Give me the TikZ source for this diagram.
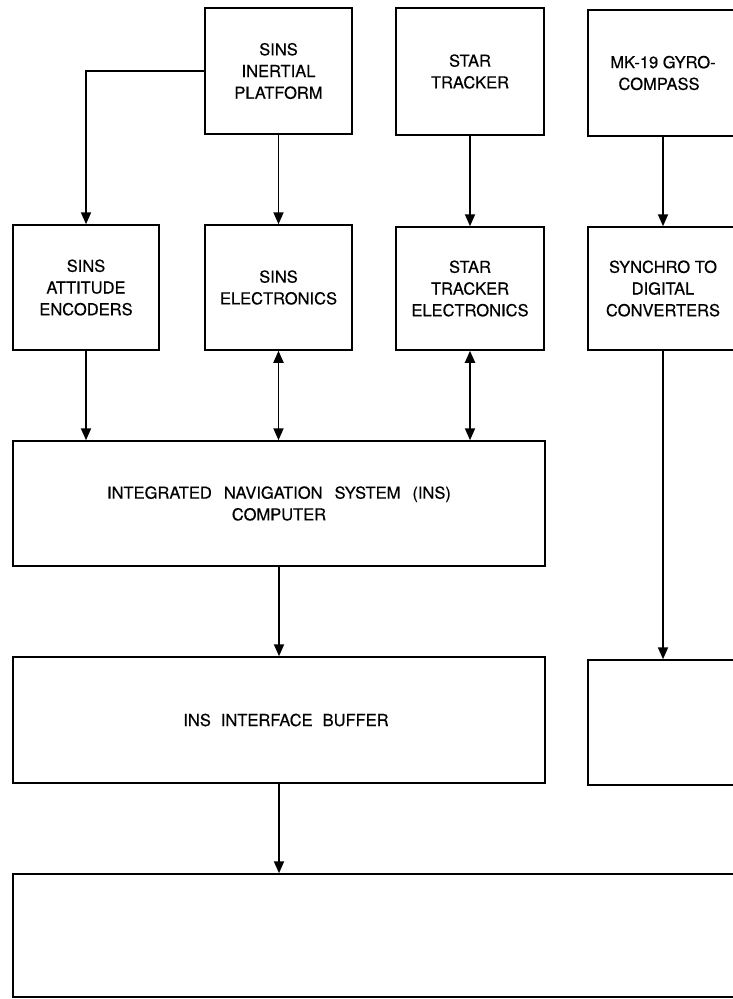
\documentclass[tikz,border=0pt]{standalone}
\usepackage{fontspec}
\setmainfont{TeX Gyre Heros}[FakeBold=0.4]
\usetikzlibrary{arrows.meta}
\begin{document}
\begin{tikzpicture}[x=1pt,y=-1pt,
  box/.style={draw, line width=1.5pt, inner sep=0pt, align=center,
    font=\fontsize{16.5}{21.7}\selectfont},
  conn/.style={line width=1.9pt, -{Triangle[length=12pt,width=10pt]}},
  biconn/.style={line width=1.9pt, {Triangle[length=12pt,width=10pt]}-{Triangle[length=12pt,width=10pt]}}]
\useasboundingbox (0,0) rectangle (733,999);
\fill[white] (0,0) rectangle (733,999);
% top row
\node[box, minimum width=147pt, minimum height=126pt] (plat) at (278.5,71) {SINS\\INERTIAL\\PLATFORM};
\node[box, minimum width=148pt, minimum height=127pt] (star) at (470,71.5) {STAR\\TRACKER};
\node[box, minimum width=150pt, minimum height=126pt] (mk) at (663,73) {MK-19 GYRO-\\COMPASS\hspace*{8pt}};
% second row
\node[box, minimum width=146pt, minimum height=125pt] (enc) at (86,287.5) {SINS\\ATTITUDE\\ENCODERS};
\node[box, minimum width=147pt, minimum height=125pt] (selec) at (278.5,287.5) {SINS\\ELECTRONICS};
\node[box, minimum width=148pt, minimum height=123pt] (stelec) at (470,288.5) {STAR\\TRACKER\\ELECTRONICS};
\node[box, minimum width=150pt, minimum height=123pt] (synch) at (663,288.5) {SYNCHRO TO\\DIGITAL\\CONVERTERS};
% computer and buffer
\node[box, minimum width=532pt, minimum height=125pt] (comp) at (279,503.5) {INTEGRATED\hspace{12pt}NAVIGATION\hspace{12pt}SYSTEM\hspace{12pt}(INS)\\COMPUTER};
\node[box, minimum width=532pt, minimum height=126pt] (buf) at (279,720) {\hspace*{14pt}INS\hspace{10pt}INTERFACE\hspace{10pt}BUFFER};
\node[box, minimum width=152pt, minimum height=125pt] (rbox) at (664,722.5) {};
\node[box, minimum width=747pt, minimum height=123pt] (big) at (386.5,935.5) {};
% connectors
\draw[conn] (plat.west) -| (enc.north);
\draw[conn] (plat.south) -- (selec.north);
\draw[conn] (star.south) -- (stelec.north);
\draw[conn] (mk.south) -- (synch.north);
\draw[conn] (enc.south) -- (enc.south |- comp.north);
\draw[biconn] (selec.south) -- (selec.south |- comp.north);
\draw[biconn] (stelec.south) -- (stelec.south |- comp.north);
\draw[conn] (comp.south) -- (buf.north);
\draw[conn] (synch.south) -- (synch.south |- rbox.north);
\draw[conn] (buf.south) -- (buf.south |- big.north);
\end{tikzpicture}
\end{document}
